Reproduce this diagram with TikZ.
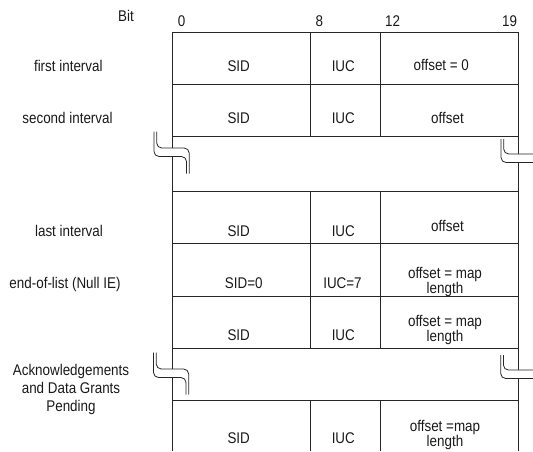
\documentclass[tikz,border=0pt]{standalone}
\usepackage{fontspec}
\setmainfont[FakeStretch=0.865]{Liberation Sans}
\begin{document}
\begin{tikzpicture}[x=1pt,y=-1pt,
  grid/.style={line width=0.8pt,draw=black!85},
  txt/.style={font=\fontsize{15.5}{15.5}\selectfont,inner sep=0pt,text=black!90},
  cell/.style={txt,anchor=base},
  two/.style={txt,align=center,anchor=center},
  lbrk/.pic={
    \fill[white,rounded corners=4pt] (0,0) -- (0,25) -- (32.5,25) -- (32.5,42) -- (35.2,42) -- (35.2,16.5) -- (2.7,16.5) -- (2.7,0) -- cycle;
    \draw[grid,rounded corners=5pt] (0,0) -- (0,25) -- (32.5,25) -- (32.5,42);
    \draw[grid,rounded corners=5pt] (2.7,0) -- (2.7,16.5) -- (35.2,16.5) -- (35.2,42);
  },
  rbrk/.pic={
    \fill[white,rounded corners=4pt] (0,0) -- (0,23.5) -- (33,23.5) -- (33,15) -- (2.7,15) -- (2.7,0) -- cycle;
    \draw[grid,rounded corners=5pt] (0,0) -- (0,23.5) -- (33,23.5);
    \draw[grid,rounded corners=5pt] (2.7,0) -- (2.7,15) -- (33,15);
  }]
\useasboundingbox (0,0) rectangle (533,451);
% outer borders
\draw[grid] (172.3,32.3) -- (172.3,451);
\draw[grid] (518.7,32.3) -- (518.7,451);
% row lines
\foreach \y in {32.3,84.3,136.7,191.7,243.3,296,348.3,400}
  \draw[grid] (172.3,\y) -- (518.7,\y);
% column dividers
\foreach \x in {310,380}{
  \draw[grid] (\x,32.3) -- (\x,136.7);
  \draw[grid] (\x,191.7) -- (\x,348.3);
  \draw[grid] (\x,400) -- (\x,451);
}
% break marks
\pic at (154,131.5) {lbrk};
\pic at (153.5,352.5) {lbrk};
\pic at (501,139) {rbrk};
\pic at (500.7,355) {rbrk};
% bit header
\node[cell] (bit) at (126,21.7) {Bit};
\node[cell] (b0) at (181.5,26) {0};
\node[cell] (b8) at (319.3,26) {8};
\node[cell] (b12) at (392.5,26) {12};
\node[cell] (b19) at (509.5,26) {19};
% left labels
\node[cell] (l1) at (68.3,71) {first interval};
\node[cell] (l2) at (67.5,123.3) {second interval};
\node[cell] (l3) at (69,236.7) {last interval};
\node[cell] (l4) at (65,288) {end-of-list (Null IE)};
\node[txt,align=center,font=\fontsize{15.5}{18.3}\selectfont] (l5) at (71,389.5) {Acknowledgements\\and Data Grants\\Pending};
% row 1
\node[cell] (s1) at (238.7,71.7) {SID};
\node[cell] (i1) at (343.3,71.7) {IUC};
\node[cell] (o1) at (441.3,70) {offset = 0};
% row 2
\node[cell] (s2) at (238.7,123.3) {SID};
\node[cell] (i2) at (343.3,123.3) {IUC};
\node[cell] (o2) at (447.5,123.3) {offset};
% last interval
\node[cell] (s3) at (238.7,236.7) {SID};
\node[cell] (i3) at (343.3,236.7) {IUC};
\node[cell] (o3) at (447.5,231.7) {offset};
% end of list
\node[cell] (s4) at (243.8,288.3) {SID=0};
\node[cell] (i4) at (342.5,288.3) {IUC=7};
\node[two] (o4) at (445,281.8) {offset = map\\length};
% next
\node[cell] (s5) at (238.7,340) {SID};
\node[cell] (i5) at (343.3,340) {IUC};
\node[two] (o5) at (445,330.2) {offset = map\\length};
% last row
\node[cell] (s6) at (238.7,443.3) {SID};
\node[cell] (i6) at (343.3,443.3) {IUC};
\node[two] (o6) at (445,435.2) {offset =map\\length};
\end{tikzpicture}
\end{document}
